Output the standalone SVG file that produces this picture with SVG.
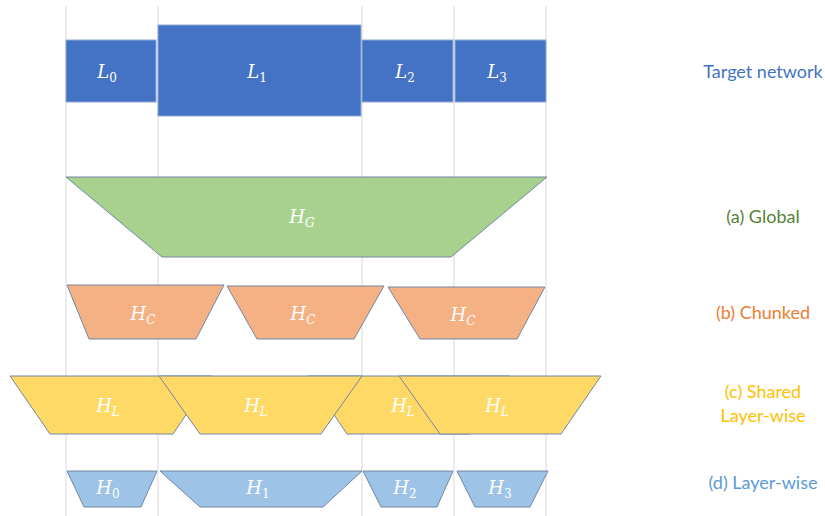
<svg xmlns="http://www.w3.org/2000/svg" width="825" height="516" viewBox="0 0 825 516">
<style>
.grid{stroke:#d9d9d9;stroke-width:1}
.shape{stroke:#7386a3;stroke-width:1}
.L{fill:#4472c4;stroke:#8fa9d6}
.g{fill:#a9d18e}
.o{fill:#f4b183}
.y{fill:#ffd966}
.b{fill:#9dc3e6}
.m{font-family:"DejaVu Serif","Liberation Serif",serif;font-style:italic;font-size:18px;fill:#ffffff;text-anchor:middle}
.m tspan.s{font-size:12px}
.m tspan.d{font-size:12px;font-style:normal}
.cap{font-family:Lato,"Open Sans","Liberation Sans",sans-serif;font-size:18px;text-anchor:middle}
</style>
<rect width="825" height="516" fill="#ffffff"/>
<g id="gridlines">
<line class="grid" x1="66" y1="6" x2="66" y2="516"/>
<line class="grid" x1="158" y1="6" x2="158" y2="516"/>
<line class="grid" x1="362" y1="6" x2="362" y2="516"/>
<line class="grid" x1="454" y1="6" x2="454" y2="516"/>
<line class="grid" x1="546" y1="6" x2="546" y2="516"/>
</g>
<g id="target">
<g id="L0"><rect class="L" x="66" y="40" width="90" height="62"/><text class="m" x="107" y="78">L<tspan class="d" dy="4">0</tspan></text></g>
<g id="L1"><rect class="L" x="158" y="25" width="203" height="91"/><text class="m" x="257" y="78">L<tspan class="d" dy="4">1</tspan></text></g>
<g id="L2"><rect class="L" x="362" y="40" width="91" height="62"/><text class="m" x="405" y="78">L<tspan class="d" dy="4">2</tspan></text></g>
<g id="L3"><rect class="L" x="455" y="40" width="91" height="62"/><text class="m" x="497" y="78">L<tspan class="d" dy="4">3</tspan></text></g>
</g>
<g id="global">
<g id="HG"><polygon class="shape g" points="66,177 547,177 451,257 162,257"/><text class="m" x="302" y="223">H<tspan class="s" dy="4">G</tspan></text></g>
</g>
<g id="chunked">
<g id="HC1"><polygon class="shape o" points="67,285 224,285 196,339 89,339"/><text class="m" x="143" y="320">H<tspan class="s" dy="4">C</tspan></text></g>
<g id="HC2"><polygon class="shape o" points="227,286 384,286 354,339 257,339"/><text class="m" x="303" y="320">H<tspan class="s" dy="4">C</tspan></text></g>
<g id="HC3"><polygon class="shape o" points="388,287 545,287 517,339 420,339"/><text class="m" x="463" y="321">H<tspan class="s" dy="4">C</tspan></text></g>
</g>
<g id="shared">
<g id="HL1"><polygon class="shape y" points="10,376 212,376 173,434 50,434"/><text class="m" x="108" y="412">H<tspan class="s" dy="4">L</tspan></text></g>
<g id="HL3"><polygon class="shape y" points="308,376 510,376 469,434 347,434"/><text class="m" x="403" y="412">H<tspan class="s" dy="4">L</tspan></text></g>
<g id="HL2"><polygon class="shape y" points="159,376 362,376 321,434 200,434"/><text class="m" x="256" y="412">H<tspan class="s" dy="4">L</tspan></text></g>
<g id="HL4"><polygon class="shape y" points="399,376 601,376 561,434 440,434"/><text class="m" x="497" y="412">H<tspan class="s" dy="4">L</tspan></text></g>
</g>
<g id="layerwise">
<g id="H0"><polygon class="shape b" points="67,471 157,471 141,507 84,507"/><text class="m" x="108" y="494">H<tspan class="d" dy="4">0</tspan></text></g>
<g id="H1"><polygon class="shape b" points="160,471 362,471 323,507 200,507"/><text class="m" x="258" y="494">H<tspan class="d" dy="4">1</tspan></text></g>
<g id="H2"><polygon class="shape b" points="363,471 453,471 437,507 381,507"/><text class="m" x="405" y="494">H<tspan class="d" dy="4">2</tspan></text></g>
<g id="H3"><polygon class="shape b" points="457,471 548,471 530,507 475,507"/><text class="m" x="500" y="494">H<tspan class="d" dy="4">3</tspan></text></g>
</g>
<g id="captions">
<text class="cap" x="763" y="78" fill="#4472c4">Target network</text>
<text class="cap" x="763" y="223" fill="#548235">(a) Global</text>
<text class="cap" x="763" y="319" fill="#ed7d31">(b) Chunked</text>
<text class="cap" x="763" y="398" fill="#ffc000">(c) Shared</text>
<text class="cap" x="763" y="422" fill="#ffc000">Layer-wise</text>
<text class="cap" x="763" y="489" fill="#5b9bd5">(d) Layer-wise</text>
</g>
</svg>
